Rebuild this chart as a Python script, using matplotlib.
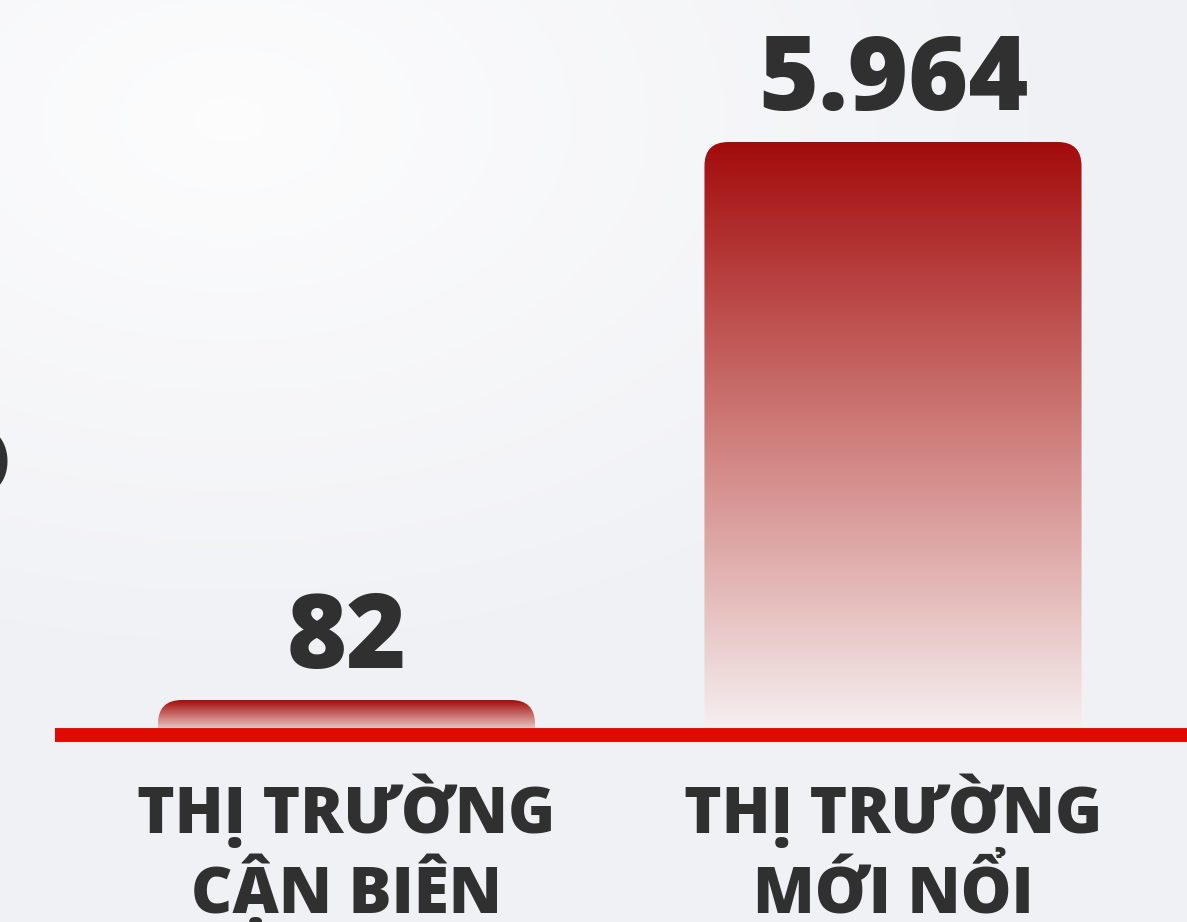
import numpy as np
import matplotlib

matplotlib.use("Agg")
import matplotlib.pyplot as plt
from matplotlib.colors import LinearSegmentedColormap
from matplotlib.patches import PathPatch
from matplotlib.path import Path

categories = ["THỊ TRƯỜNG\nCẬN BIÊN", "THỊ TRƯỜNG\nMỚI NỔI"]
values = [82, 5964]
value_labels = ["82", "5.964"]

W, H = 1187, 922
BASE_PX = 735      # baseline, pixels from top
TOP_PX = 142       # top of the tallest bar
STEP_PX = 546.5    # distance between bar centres
FIRST_PX = 346.5   # centre of first bar
BAR_W = 0.69
RADIUS_PX = 24
MIN_FRAC = 0.059   # small bars are kept visible
LINE_OFFSETS = [-70.5, -128]  # label line baselines, points below the axis line
TEXT = "#303030"
FONT = ["Open Sans", "DejaVu Sans"]

bar_cmap = LinearSegmentedColormap.from_list("bar", ["#f7f1f2", "#cf7f7c", "#a30b0b"])

fig = plt.figure(figsize=(W / 100, H / 100), dpi=100)

# soft background, lighter towards the top left
bg = fig.add_axes([0, 0, 1, 1])
bg.axis("off")
yy, xx = np.mgrid[0:H, 0:W]
glow = np.clip(1 - np.hypot((xx - 230) / 800, (yy - 120) / 520), 0, 1)
base = np.array([0.945, 0.949, 0.963])
light = np.array([0.99, 0.99, 0.993])
bg.imshow(base + (light - base) * glow[..., None], extent=[0, W, H, 0], aspect="auto")

ax = fig.add_axes([0, 0, 1, 1])
ax.patch.set_alpha(0)
ax.axis("off")
vmax = max(values)
upp = vmax / (BASE_PX - TOP_PX)
ax.set_xlim(-FIRST_PX / STEP_PX, -FIRST_PX / STEP_PX + W / STEP_PX)
ax.set_ylim(-(H - BASE_PX) * upp, BASE_PX * upp)

rx = RADIUS_PX / STEP_PX
ry = RADIUS_PX * upp
grad = np.linspace(0, 1, 256)[:, None]

for i, (v, lab) in enumerate(zip(values, value_labels)):
    h = max(v, MIN_FRAC * vmax)
    x0, x1 = i - BAR_W / 2, i + BAR_W / 2
    r_y = min(ry, h * 0.8)
    verts = [(x0, 0), (x0, h - r_y), (x0, h), (x0 + rx, h), (x1 - rx, h),
             (x1, h), (x1, h - r_y), (x1, 0), (x0, 0)]
    codes = [Path.MOVETO, Path.LINETO, Path.CURVE3, Path.CURVE3, Path.LINETO,
             Path.CURVE3, Path.CURVE3, Path.LINETO, Path.CLOSEPOLY]
    patch = PathPatch(Path(verts, codes), facecolor="none", edgecolor="none")
    ax.add_patch(patch)
    im = ax.imshow(grad, cmap=bar_cmap, origin="lower", extent=[x0, x1, 0, h],
                   aspect="auto", zorder=2)
    im.set_clip_path(patch)
    ax.annotate(lab, (i, h), xytext=(0, 23), textcoords="offset points",
                ha="center", va="baseline", fontsize=74, fontweight=800,
                color=TEXT, family=FONT)

ax.axhline(0, xmin=55 / W, xmax=1, color="#e00a00", lw=10, solid_capstyle="butt", zorder=3)

# each label line on its own baseline so accents do not shift them
for i, cat in enumerate(categories):
    for line, dy in zip(cat.split("\n"), LINE_OFFSETS):
        ax.annotate(line, (i, 0), xytext=(0, dy), textcoords="offset points",
                    ha="center", va="baseline", fontsize=46, fontweight=800,
                    color=TEXT, family=FONT)

# clipped fragment of text at the left edge
fig.text(9 / W, 1 - 462 / H, ")", ha="right", va="center", fontsize=42,
         fontweight="bold", color=TEXT, family=FONT)

fig.savefig("out.png", dpi=100)
